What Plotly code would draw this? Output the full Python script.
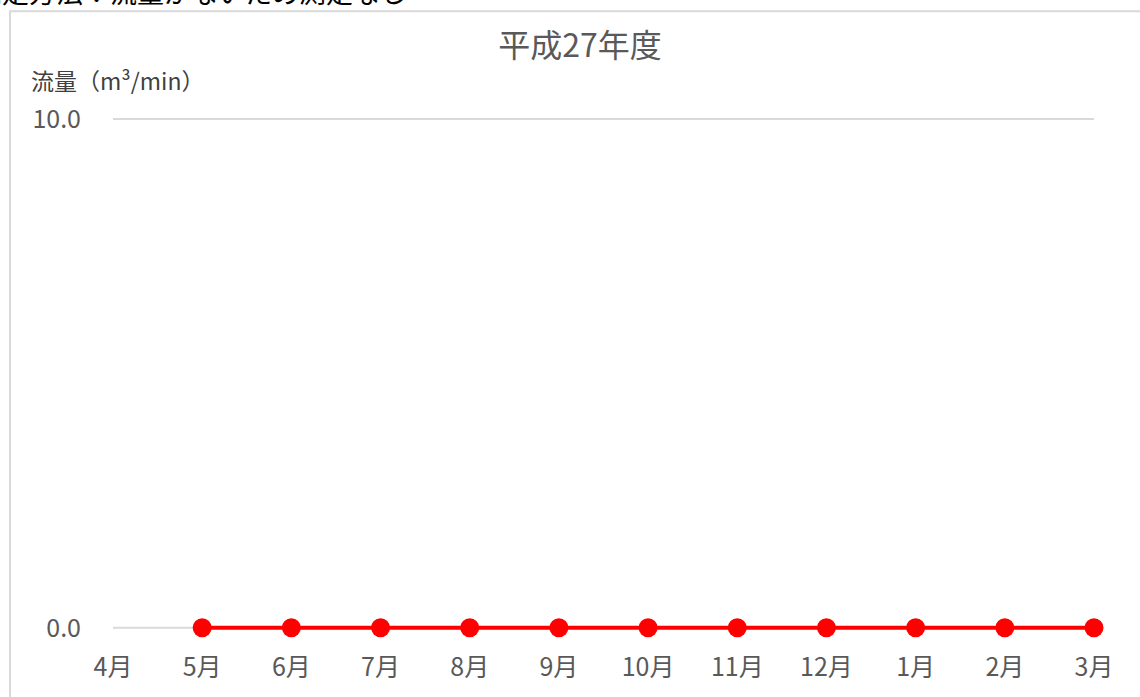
import plotly.graph_objects as go

# Monthly flow for fiscal year H27 (April = no value)
months = ["4月", "5月", "6月", "7月", "8月", "9月", "10月", "11月", "12月", "1月", "2月", "3月"]
flow = [None, 0.0, 0.0, 0.0, 0.0, 0.0, 0.0, 0.0, 0.0, 0.0, 0.0, 0.0]
y_ticks = [0.0, 10.0]

W, H = 1140, 697
L, R = 113, 46
Y_TOP_PX, Y_ZERO_PX = 119, 628
Y_PAD_LO, Y_PAD_HI = 0.2, 0.1  # room around 0 and 10 so lines are not clipped
unit = (Y_ZERO_PX - Y_TOP_PX) / 10
T = Y_TOP_PX - Y_PAD_HI * unit
B = H - (Y_ZERO_PX + Y_PAD_LO * unit)
pw, ph = W - L - R, H - T - B


def px(x):
    return (x - L) / pw


def py(y):
    return (H - B - y) / ph


jp = "Noto Sans CJK JP, Noto Sans, sans-serif"
grey = "#595959"

fig = go.Figure()
fig.add_trace(go.Scatter(
    x=list(range(len(months))), y=flow,
    mode="lines+markers",
    line=dict(color="#ff0000", width=4),
    marker=dict(color="#ff0000", size=19),
    cliponaxis=False,
    connectgaps=False,
    showlegend=False,
))

# horizontal gridlines at each y tick
shapes = [
    dict(type="line", xref="paper", yref="y", x0=0, x1=1, y0=v, y1=v,
         line=dict(color="#d9d9d9", width=2), layer="below")
    for v in y_ticks
]
# chart frame
shapes.append(dict(type="rect", xref="paper", yref="paper",
                   x0=px(10), x1=px(1160), y0=py(720), y1=py(11),
                   line=dict(color="#d9d9d9", width=2), fillcolor="rgba(0,0,0,0)",
                   layer="below"))

fig.update_layout(
    width=W, height=H,
    margin=dict(l=L, r=R, t=T, b=B),
    paper_bgcolor="white", plot_bgcolor="white",
    font=dict(family=jp, color=grey),
    title=dict(text="平成27年度", x=580 / W, xanchor="center",
               y=1 - 46 / H, yanchor="middle",
               font=dict(size=32, color=grey, family=jp)),
    xaxis=dict(
        range=[0, len(months) - 1],
        tickmode="array", tickvals=list(range(len(months))), ticktext=months,
        showgrid=False, zeroline=False, showline=False, ticks="",
        tickfont=dict(size=25, color=grey, family=jp),
        ticklabelstandoff=12,
    ),
    yaxis=dict(
        range=[-Y_PAD_LO, 10 + Y_PAD_HI],
        tickmode="array", tickvals=y_ticks,
        ticktext=[f"{v:.1f}" for v in y_ticks],
        showgrid=False, zeroline=False, showline=False, ticks="",
        tickfont=dict(size=25, color=grey, family=jp),
        ticklabelstandoff=31,
    ),
    shapes=shapes,
    annotations=[
        dict(text="流量（m³/min）", xref="paper", yref="paper",
             x=px(29), y=py(80), xanchor="left", yanchor="middle",
             showarrow=False, font=dict(size=23, color="#404040", family=jp)),
        dict(text="測定方法：流量がないため測定なし", xref="paper", yref="paper",
             x=px(-27), y=py(-9), xanchor="left", yanchor="middle",
             showarrow=False, font=dict(size=27, color="#000000", family=jp)),
    ],
)

fig.write_html("out.html")
